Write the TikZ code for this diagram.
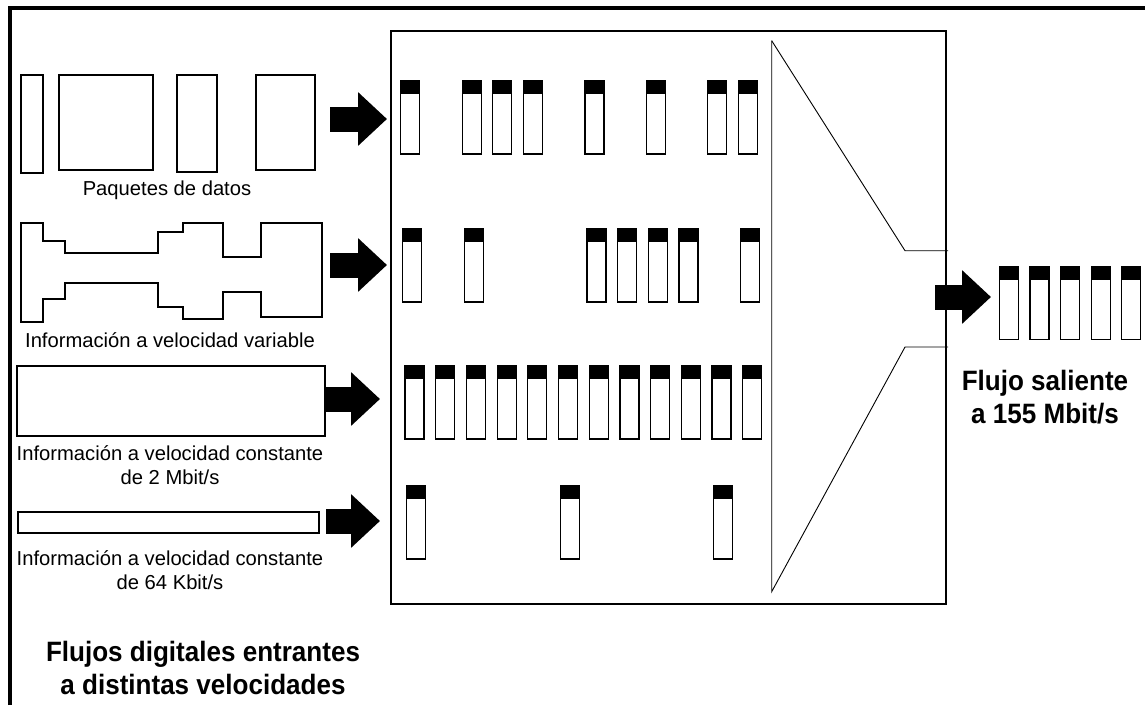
\documentclass[tikz,border=0pt]{standalone}
\usepackage{fontspec}
\setmainfont{Liberation Sans}
\newfontfamily\headfont[FakeStretch=0.93]{Liberation Sans Bold}
\usetikzlibrary{arrows.meta}
\tikzset{
  every node/.style={inner sep=0pt,outer sep=0pt},
  frame/.style={line width=4pt,line join=miter},
  stream/.style={draw,line width=1.2pt},
  muxbox/.style={draw,line width=1.3pt,minimum width=555pt,minimum height=573pt},
  funnel/.style={line width=0.9pt},
  bigarrow/.style={line width=25pt,-{Triangle[length=29pt,width=52pt]}},
  caption/.style={font=\fontsize{20.2}{24}\selectfont,align=center},
  heading/.style={font=\headfont\fontsize{28}{33}\selectfont,align=center},
}
% one ATM cell: black header on top of the payload
\newcommand{\cellat}[2]{%
  \fill (#1,#2) rectangle ++(19,13);
  \draw[line width=1.2pt] (#1,#2) rectangle ++(19,73);}

\begin{document}
\begin{tikzpicture}[x=1pt,y=-1pt]
\useasboundingbox (0,0) rectangle (1145,705);
\draw[frame] (9.5,705) -- (9.5,8) -- (1145,8);

% incoming streams
\node[stream,minimum width=22pt,minimum height=98pt] (pk1) at (32,124) {};
\node[stream,minimum width=94pt,minimum height=95pt] (pk2) at (106,122.5) {};
\node[stream,minimum width=40pt,minimum height=97pt] (pk3) at (197,123.5) {};
\node[stream,minimum width=59pt,minimum height=95pt] (pk4) at (285.5,122.5) {};
\node[caption] (lblpk) at (167,190) {Paquetes de datos};

\draw[stream] (21,223) -- (43,223) -- (43,241) -- (65,241) -- (65,253) -- (158,253)
  -- (158,232) -- (183,232) -- (183,223) -- (223,223) -- (223,257) -- (261,257)
  -- (261,223) -- (322,223) -- (322,317) -- (261,317) -- (261,292) -- (223,292)
  -- (223,319) -- (183,319) -- (183,307) -- (158,307) -- (158,283) -- (65,283)
  -- (65,299) -- (43,299) -- (43,322) -- (21,322) -- cycle;
\node[caption] (lblvar) at (170,340) {Información a velocidad variable};

\node[stream,minimum width=308pt,minimum height=70pt] (cbr2) at (171,401) {};
\node[caption] (lblcbr2) at (170,465) {Información a velocidad constante\\de 2 Mbit/s};

\node[stream,minimum width=301pt,minimum height=21pt] (cbr64) at (168.5,522.5) {};
\node[caption] (lblcbr64) at (170,570) {Información a velocidad constante\\de 64 Kbit/s};

\node[heading] (lblin) at (203,668) {Flujos digitales entrantes\\a distintas velocidades};

% multiplexer
\node[muxbox] (mux) at (668.5,317.5) {};
\draw[funnel] (771.7,40.7) -- (771.7,591.7) -- (905,347) -- (948,347);
\draw[funnel] (771.7,40.7) -- (905,250.7) -- (948,250.7);

\coordinate (in1) at (330,119);
\coordinate (in2) at (330,265);
\coordinate (in3) at (325,399);
\coordinate (in4) at (326,521);
\draw[bigarrow,shorten >=4pt] (in1) -- (in1 -| mux.west);
\draw[bigarrow,shorten >=4pt] (in2) -- (in2 -| mux.west);
\draw[bigarrow,shorten >=11pt] (in3) -- (in3 -| mux.west);
\draw[bigarrow,shorten >=11pt] (in4) -- (in4 -| mux.west);

% cells inside
\foreach \k in {0,2,3,4,6,8,10,11} {\cellat{400.7+30.7*\k}{81}}
\foreach \k in {0,2,6,7,8,9,11} {\cellat{402.7+30.7*\k}{229}}
\foreach \k in {0,...,11} {\cellat{405+30.7*\k}{366}}
\foreach \k in {0,5,10} {\cellat{406.7+30.7*\k}{486}}

% outgoing stream
\coordinate (out) at (935,297);
\coordinate (outtip) at (991,297);
\draw[bigarrow] (out) -- (outtip);
\foreach \k in {0,...,4} {\cellat{999.3+30.6*\k}{266.7}}
\node[heading] (lblout) at (1045,397) {Flujo saliente\\a 155 Mbit/s};

\end{tikzpicture}
\end{document}
